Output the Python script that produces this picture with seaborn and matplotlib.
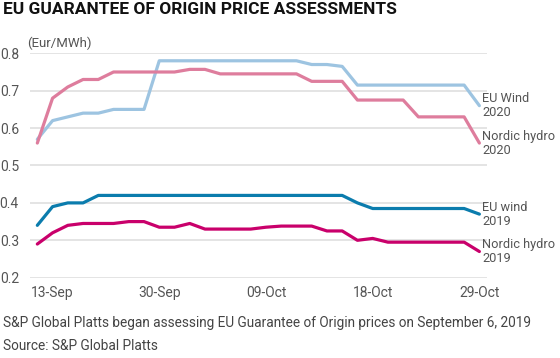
import matplotlib
matplotlib.use("Agg")
import matplotlib.pyplot as plt
import seaborn as sns
import pandas as pd
import numpy as np

# ---- data ----
eu_wind_2020 = [0.57, 0.62, 0.63, 0.64, 0.64, 0.65, 0.65, 0.65, 0.78, 0.78,
                0.78, 0.78, 0.78, 0.78, 0.78, 0.78, 0.78, 0.78, 0.77, 0.77,
                0.765, 0.715, 0.715, 0.715, 0.715, 0.715, 0.715, 0.715, 0.715, 0.66]
nordic_hydro_2020 = [0.56, 0.68, 0.71, 0.73, 0.73, 0.75, 0.75, 0.75, 0.75, 0.75,
                     0.757, 0.757, 0.745, 0.745, 0.745, 0.745, 0.745, 0.745, 0.725, 0.725,
                     0.725, 0.675, 0.675, 0.675, 0.675, 0.63, 0.63, 0.63, 0.63, 0.56]
eu_wind_2019 = [0.34, 0.39, 0.40, 0.40, 0.42, 0.42, 0.42, 0.42, 0.42, 0.42,
                0.42, 0.42, 0.42, 0.42, 0.42, 0.42, 0.42, 0.42, 0.42, 0.42,
                0.42, 0.40, 0.385, 0.385, 0.385, 0.385, 0.385, 0.385, 0.385, 0.37]
nordic_hydro_2019 = [0.29, 0.32, 0.34, 0.345, 0.345, 0.345, 0.35, 0.35, 0.335, 0.335,
                     0.345, 0.33, 0.33, 0.33, 0.33, 0.335, 0.338, 0.338, 0.338, 0.325,
                     0.325, 0.30, 0.305, 0.295, 0.295, 0.295, 0.295, 0.295, 0.295, 0.27]

series_names = ["EU Wind\n2020", "Nordic hydro\n2020", "EU wind\n2019", "Nordic hydro\n2019"]
series_values = [eu_wind_2020, nordic_hydro_2020, eu_wind_2019, nordic_hydro_2019]
colors = ["#9dc4e1", "#de7d9d", "#0b7cad", "#c9006b"]

tick_labels = ["13-Sep", "30-Sep", "09-Oct", "18-Oct", "29-Oct"]
tick_index = [1, 8, 15, 22, 29]
y_ticks = [0.2, 0.3, 0.4, 0.5, 0.6, 0.7, 0.8]

title = "EU GUARANTEE OF ORIGIN PRICE ASSESSMENTS"
unit = "(Eur/MWh)"
note = "S&P Global Platts began assessing EU Guarantee of Origin prices on September 6, 2019"
source = "Source: S&P Global Platts"

# ---- long-form table ----
rows = []
for name, vals in zip(series_names, series_values):
    for i, v in enumerate(vals):
        rows.append({"idx": i, "value": v, "series": name})
df = pd.DataFrame(rows)

sns.set_theme(style="white")
plt.rcParams["font.family"] = ["Roboto", "DejaVu Sans"]

W, H = 560, 358
fig = plt.figure(figsize=(W / 100, H / 100), dpi=100)
ax = fig.add_axes([30 / W, 1 - 277.7 / H, (487 - 30) / W, (277.7 - 53.3) / H])

for yv in y_ticks:
    ax.axhline(yv, color="#e4e4e4", lw=1.4, zorder=0)

sns.lineplot(data=df, x="idx", y="value", hue="series", hue_order=series_names,
             palette=colors, linewidth=2.3, legend=False, ax=ax, zorder=3)

ax.set_xlim(-0.48, 29.5)
ax.set_ylim(0.2, 0.8)
ax.set_yticks(y_ticks)
ax.set_yticklabels([f"{v:.1f}" for v in y_ticks])
ax.set_xticks(tick_index)
ax.set_xticklabels(tick_labels)
ax.tick_params(axis="both", length=0, labelsize=10, labelcolor="#555555")
ax.tick_params(axis="y", pad=8)
ax.tick_params(axis="x", pad=6)
ax.set_xlabel("")
ax.set_ylabel("")
for s in ax.spines.values():
    s.set_visible(False)
ax.patch.set_alpha(0)

# right-hand labels
for name, vals in zip(series_names, series_values):
    ax.annotate(name, xy=(len(vals) - 1, vals[-1]), xytext=(2, 0),
                textcoords="offset points", va="center", ha="left",
                fontsize=9.2, color="#555555", linespacing=1.1,
                annotation_clip=False)

fig.text(3 / W, 1 - 10 / H, title, fontsize=12.5, fontweight="bold",
         color="#111111", va="center", ha="left")
fig.text(27 / W, 1 - 43 / H, unit, fontsize=9.5, color="#555555",
         va="center", ha="left")
fig.text(3 / W, 1 - 323 / H, note, fontsize=9.8, color="#444444",
         va="center", ha="left")
fig.text(3 / W, 1 - 346 / H, source, fontsize=9.8, color="#444444",
         va="center", ha="left")

fig.savefig("out.png", dpi=100)
